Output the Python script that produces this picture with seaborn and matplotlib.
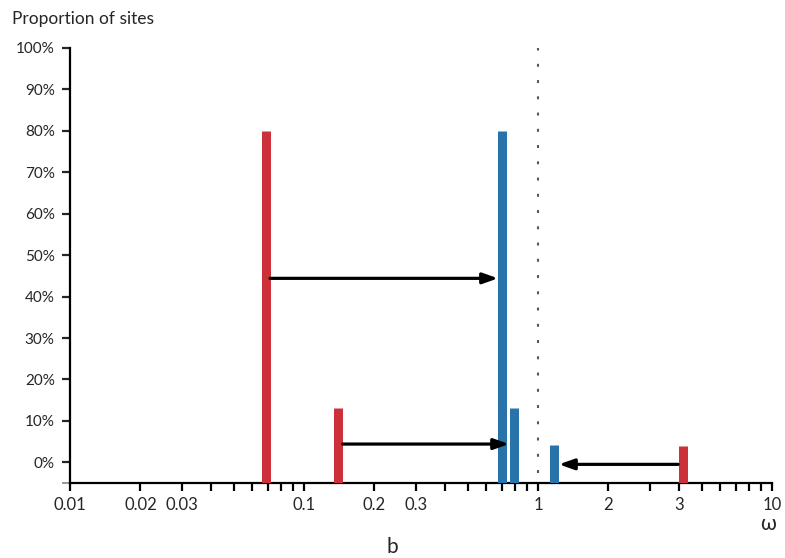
import numpy as np
import matplotlib
matplotlib.use("Agg")
import matplotlib.pyplot as plt
from matplotlib.ticker import FixedLocator, FixedFormatter
import seaborn as sns

# ---- data ----
red_omega = [0.0685, 0.140, 4.15]
red_prop = [80, 13, 3.9]
blue_omega = [0.705, 0.786, 1.176]
blue_prop = [80, 13, 4.1]
# arrows: (from omega, to omega, y level %)
arrow_from = [0.0685, 0.140, 4.15]
arrow_to = [0.705, 0.786, 1.176]
arrow_y = [44.4, 4.4, -0.5]

ytick_vals = list(range(0, 101, 10))
ytick_labels = [f"{v}%" for v in ytick_vals]
xtick_vals = [0.01, 0.02, 0.03, 0.1, 0.2, 0.3, 1, 2, 4, 10]
xtick_labels = ["0.01", "0.02", "0.03", "0.1", "0.2", "0.3", "1", "2", "3", "10"]

sns.set_style("ticks")
plt.rcParams['font.family'] = ['Lato', 'DejaVu Sans']

fig = plt.figure(figsize=(7.85, 5.58), dpi=100)
ax = fig.add_axes([70/785, 1-483/558, (772-70)/785, (483-48)/558])
ax.set_xscale("log")
ax.set_xlim(0.01, 10)
ax.set_ylim(-5, 100)

RED = "#cc3038"
BLUE = "#2874aa"
barw = 9 * 72 / 100  # 9 px in points
ax.vlines(red_omega, -5, red_prop, colors=RED, linewidth=barw, capstyle="butt", zorder=3)
ax.vlines(blue_omega, -5, blue_prop, colors=BLUE, linewidth=barw, capstyle="butt", zorder=3)

# dotted line at omega = 1
ax.axvline(1, ymin=0.0, ymax=1.0, color="#555555", linestyle=(3.0, (1.4, 6.4)),
           linewidth=1.5, zorder=2)

# arrows (start at bar edge, end at bar edge)
half = 10 ** (4.5 / 234)
for a, b, yv in zip(arrow_from, arrow_to, arrow_y):
    if b > a:
        start, end = a * half, b / half
    else:
        start, end = a / half, b * half
    ax.annotate("", xy=(end, yv), xytext=(start, yv),
                arrowprops=dict(arrowstyle="-|>,head_length=0.9,head_width=0.32",
                                color="black", lw=2.3, shrinkA=0, shrinkB=0),
                zorder=4)

# ticks
minor_all = []
for d in [0.01, 0.1, 1]:
    for k in range(1, 10):
        minor_all.append(d * k)
minor_all.append(10)
minor_only = [v for v in minor_all if not any(abs(v - t) < 1e-9 for t in xtick_vals)]
ax.xaxis.set_major_locator(FixedLocator(xtick_vals))
ax.xaxis.set_major_formatter(FixedFormatter(xtick_labels))
ax.xaxis.set_minor_locator(FixedLocator(minor_only))
ax.xaxis.set_minor_formatter(FixedFormatter([""] * len(minor_only)))
ax.tick_params(axis="x", which="both", direction="out", length=6, width=1.6,
               color="black", labelsize=12, pad=4)

ax.set_yticks(ytick_vals)
ax.set_yticklabels(ytick_labels)
ax.yaxis.set_minor_locator(FixedLocator([-5]))
ax.tick_params(axis="y", which="major", direction="out", length=6, width=1.6,
               labelsize=11, pad=5)
ax.tick_params(axis="y", which="minor", direction="out", length=6, width=1.2,
               color="#888888")

for s in ["top", "right"]:
    ax.spines[s].set_visible(False)
for s in ["left", "bottom"]:
    ax.spines[s].set_linewidth(1.6)
    ax.spines[s].set_color("black")

fig.text(12/785, 1-19/558, "Proportion of sites", fontsize=12.5, va="center", ha="left")
fig.text(768/785, 1-524/558, "ω", fontsize=15, va="center", ha="center")
fig.text(392/785, 1-547/558, "b", fontsize=15, va="center", ha="center")

fig.savefig("out.png", dpi=100)
